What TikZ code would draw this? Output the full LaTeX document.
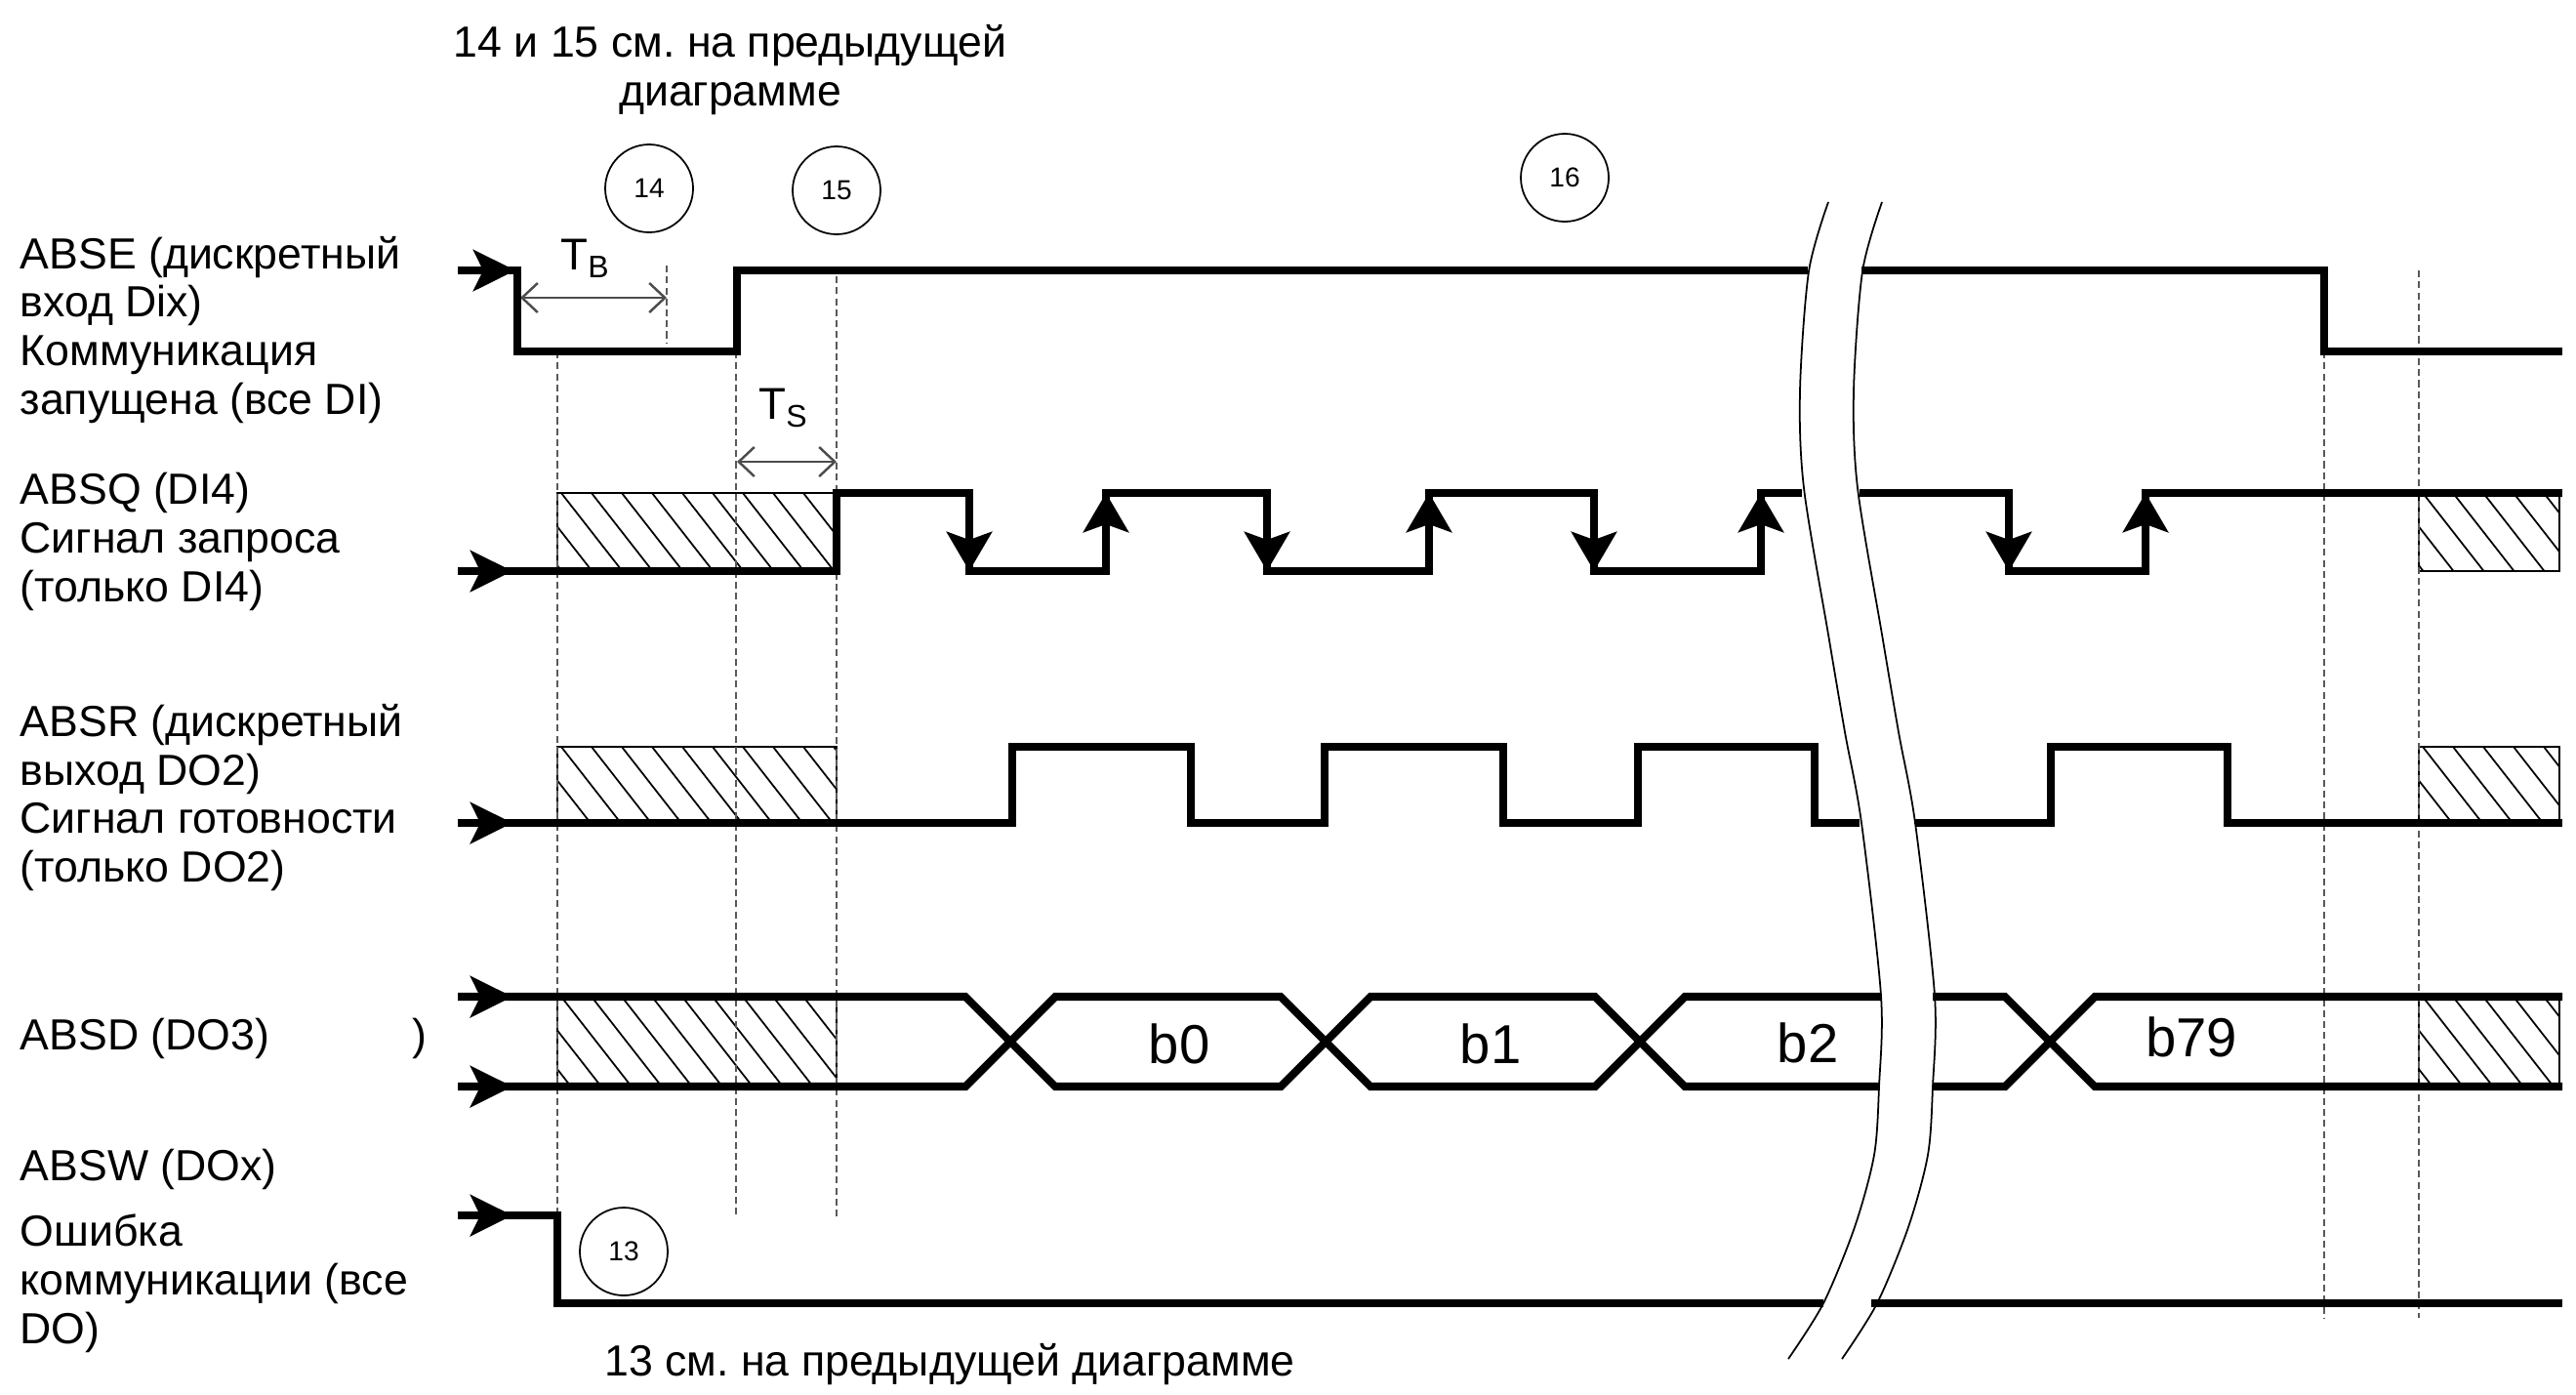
\documentclass[tikz,border=0pt]{standalone}
\usepackage{fontspec}
\setmainfont{Liberation Sans}
\usepackage{tikz}
\usetikzlibrary{arrows.meta}

% hatched area: x1, ytop, x2, ybottom
\newcommand{\hatchbox}[4]{%
  \begin{scope}
    \clip (#1,#2) rectangle (#3,#4);
    \foreach \i in {0,...,24}
      \draw[hatchln] (#1-1.2+\i*0.31,#2) -- ++(-52:2.2);
  \end{scope}
  \draw[hatchln] (#1,#2) rectangle (#3,#4);
}

\begin{document}
\begin{tikzpicture}[font=\fontsize{12.7}{14.2}\selectfont,
  sig/.style={line width=2.3pt},
  edgetip/.style={line width=2.3pt, -{Stealth[length=4mm, width=4.6mm, inset=0.8mm]}},
  starttip/.style={line width=2.3pt, -{Stealth[length=4.3mm, width=4.2mm, inset=1mm]}},
  guide/.style={gray!70!black, line width=0.5pt, dash pattern=on 2pt off 1.2pt},
  hatchln/.style={line width=0.5pt},
  dim/.style={gray!60!black, line width=0.7pt,
    {Straight Barb[length=1.6mm, width=3mm]}-{Straight Barb[length=1.6mm, width=3mm]}},
  brk/.style={line width=0.5pt},
  num/.style={circle, draw, line width=0.5pt, minimum size=9mm, inner sep=0pt,
    font=\fontsize{8}{9}\selectfont},
  lbl/.style={anchor=west, align=left, inner sep=0pt},
  bit/.style={font=\fontsize{16}{19}\selectfont, inner sep=0pt}]
\useasboundingbox (0,0) rectangle (26.39,-14.28);

% captions
\node[align=center] (top) at (7.48,-0.72) {14 и 15 см.\ на предыдущей\\диаграмме};
\node (bot) at (9.73,-13.98) {13 см.\ на предыдущей диаграмме};

% signal names
\node[lbl] (lE) at (0.2,-3.38) {ABSE (дискретный\\вход Dix)\\Коммуникация\\запущена (все DI)};
\node[lbl] (lQ) at (0.2,-5.55) {ABSQ (DI4)\\Сигнал запроса\\(только DI4)};
\node[lbl] (lR) at (0.2,-8.17) {ABSR (дискретный\\выход DO2)\\Сигнал готовности\\(только DO2)};
\node[lbl] (lD) at (0.2,-10.64) {ABSD (DO3)};
\node[lbl] (par) at (4.22,-10.64) {)};
\node[lbl] (lW) at (0.2,-11.98) {ABSW (DOx)};
\node[lbl] (lW2) at (0.2,-13.15) {Ошибка\\коммуникации (все\\DO)};

% step numbers
\node[num] (c14) at (6.65,-1.93) {14};
\node[num] (c15) at (8.57,-1.95) {15};
\node[num] (c16) at (16.03,-1.82) {16};
\node[num] (c13) at (6.39,-12.82) {13};

% hatched (undefined) areas
\hatchbox{5.71}{-5.05}{8.57}{-5.85}
\hatchbox{5.71}{-7.65}{8.57}{-8.43}
\hatchbox{5.71}{-10.21}{8.57}{-11.13}
\hatchbox{24.78}{-5.05}{26.22}{-5.85}
\hatchbox{24.78}{-7.65}{26.22}{-8.43}
\hatchbox{24.78}{-10.21}{26.22}{-11.13}

% guide lines
\draw[guide] (5.71,-3.60) -- (5.71,-12.45);
\draw[guide] (7.54,-3.60) -- (7.54,-12.47);
\draw[guide] (8.57,-2.83) -- (8.57,-12.47);
\draw[guide] (23.81,-3.60) -- (23.81,-13.50);
\draw[guide] (24.78,-2.77) -- (24.78,-13.50);
\draw[guide] (6.83,-2.72) -- (6.83,-3.52);

% T_B and T_S
\draw[dim] (5.33,-3.05) -- (6.83,-3.05);
\node (tb) at (6.00,-2.65) {\fontsize{13}{13}\selectfont T\textsubscript{B}};
\draw[dim] (7.55,-4.73) -- (8.57,-4.73);
\node (ts) at (8.03,-4.18) {\fontsize{13}{13}\selectfont T\textsubscript{S}};

% ABSE
\draw[starttip] (4.69,-2.77) -- (5.28,-2.77);
\draw[sig] (4.69,-2.77) -- (5.30,-2.77) -- (5.30,-3.60) -- (7.55,-3.60) -- (7.55,-2.77) -- (18.52,-2.77);
\draw[sig] (19.07,-2.77) -- (23.81,-2.77) -- (23.81,-3.60) -- (26.25,-3.60);

% ABSQ
\draw[starttip] (4.69,-5.85) -- (5.25,-5.85);
\draw[sig] (4.69,-5.85) -- (8.57,-5.85) -- (8.57,-5.05) -- (9.93,-5.05) -- (9.93,-5.85)
  -- (11.33,-5.85) -- (11.33,-5.05) -- (12.98,-5.05) -- (12.98,-5.85) -- (14.64,-5.85)
  -- (14.64,-5.05) -- (16.33,-5.05) -- (16.33,-5.85) -- (18.04,-5.85) -- (18.04,-5.05) -- (18.46,-5.05);
\draw[sig] (19.05,-5.05) -- (20.58,-5.05) -- (20.58,-5.85) -- (21.98,-5.85) -- (21.98,-5.05) -- (26.25,-5.05);
\foreach \x in {11.33,14.64,18.04,21.98}
  \draw[edgetip] (\x,-5.85) -- (\x,-5.05);
\foreach \x in {9.93,12.98,16.33,20.58}
  \draw[edgetip] (\x,-5.05) -- (\x,-5.85);

% ABSR
\draw[starttip] (4.69,-8.43) -- (5.25,-8.43);
\draw[sig] (4.69,-8.43) -- (10.37,-8.43) -- (10.37,-7.65) -- (12.20,-7.65) -- (12.20,-8.43)
  -- (13.57,-8.43) -- (13.57,-7.65) -- (15.40,-7.65) -- (15.40,-8.43) -- (16.78,-8.43)
  -- (16.78,-7.65) -- (18.59,-7.65) -- (18.59,-8.43) -- (19.05,-8.43);
\draw[sig] (19.62,-8.43) -- (21.01,-8.43) -- (21.01,-7.65) -- (22.82,-7.65) -- (22.82,-8.43) -- (26.25,-8.43);

% ABSD
\draw[starttip] (4.69,-10.21) -- (5.25,-10.21);
\draw[starttip] (4.69,-11.13) -- (5.25,-11.13);
\draw[sig] (4.69,-10.21) -- (9.89,-10.21) -- (10.81,-11.13) -- (13.12,-11.13) -- (14.04,-10.21)
  -- (16.34,-10.21) -- (17.26,-11.13) -- (19.25,-11.13);
\draw[sig] (4.69,-11.13) -- (9.89,-11.13) -- (10.81,-10.21) -- (13.12,-10.21) -- (14.04,-11.13)
  -- (16.34,-11.13) -- (17.26,-10.21) -- (19.27,-10.21);
\draw[sig] (19.80,-11.13) -- (20.54,-11.13) -- (21.46,-10.21) -- (26.25,-10.21);
\draw[sig] (19.80,-10.21) -- (20.54,-10.21) -- (21.46,-11.13) -- (26.25,-11.13);
\node[bit] (b0) at (12.08,-10.69) {b0};
\node[bit] (b1) at (15.27,-10.69) {b1};
\node[bit] (b2) at (18.52,-10.68) {b2};
\node[bit] (b79) at (22.45,-10.62) {b79};

% ABSW
\draw[starttip] (4.69,-12.45) -- (5.25,-12.45);
\draw[sig] (4.69,-12.45) -- (5.71,-12.45) -- (5.71,-13.35) -- (18.68,-13.35);
\draw[sig] (19.17,-13.35) -- (26.25,-13.35);

% time break
\foreach \s in {0,0.55}
  \draw[brk, xshift=\s cm] plot[smooth] coordinates {(18.73,-2.07) (18.53,-2.78)
    (18.44,-4.00) (18.48,-5.00) (18.73,-6.50) (18.90,-7.50) (19.07,-8.43) (19.27,-10.20)
    (19.25,-11.13) (19.20,-11.83) (19.00,-12.57) (18.68,-13.35) (18.32,-13.92)};
\end{tikzpicture}
\end{document}
